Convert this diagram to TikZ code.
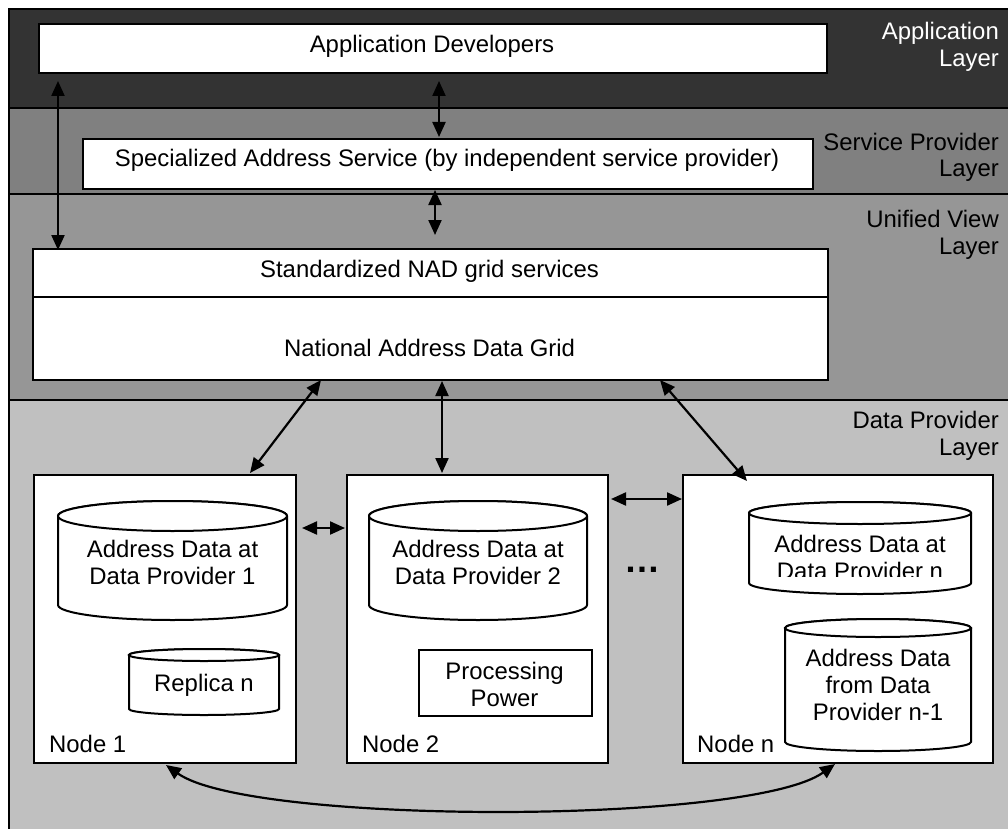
\documentclass[tikz,border=0pt]{standalone}
\usepackage{fontspec}
\setmainfont{Liberation Sans}
\usetikzlibrary{arrows.meta}
\definecolor{appc}{HTML}{333333}
\definecolor{svc}{HTML}{808080}
\definecolor{uvc}{HTML}{969696}
\definecolor{dpc}{HTML}{C0C0C0}
\newcommand\dbdraw[5]{%
  \pgfmathsetmacro\dbrx{(#2-#1)/2}%
  \filldraw[cylline] (#1,#3) -- (#1,#4) arc[start angle=180,end angle=0,x radius=\dbrx,y radius=#5]
    -- (#2,#3) arc[start angle=0,end angle=-180,x radius=\dbrx,y radius=#5] -- cycle;
  \draw[cylline] ({(#1+#2)/2},#3) ellipse[x radius=\dbrx, y radius=#5];
}
\begin{document}
\begin{tikzpicture}[x=1pt,y=-1pt,
  box/.style={draw=black, line width=2pt, fill=white, inner sep=0pt, anchor=north west},
  cylline/.style={draw=black, line width=2pt, fill=white},
  txt/.style={font=\fontsize{23.9}{27}\selectfont, inner sep=0pt, anchor=base, align=center},
  lyr/.style={txt, anchor=base east, align=right},
  conn/.style={line width=2.2pt, {Triangle[length=15pt,width=13pt]}-{Triangle[length=15pt,width=13pt]}}]
\useasboundingbox (0,0) rectangle (1008,829);
\fill[white] (0,0) rectangle (1008,829);
% layers
\fill[appc] (9,9) rectangle (1008,108);
\fill[svc] (9,108) rectangle (1008,194);
\fill[uvc] (9,194) rectangle (1008,400);
\fill[dpc] (9,400) rectangle (1008,829);
\draw[line width=2pt] (1008,9) -- (9,9) -- (9,829);
\draw[line width=2pt] (9,108) -- (1008,108);
\draw[line width=2pt] (9,194) -- (1008,194);
\draw[line width=2pt] (9,400) -- (1008,400);
% layer labels
\node[lyr, text=white] (lapp) at (999,67) {Application\\Layer};
\node[lyr] (lsvc) at (999,177) {Service Provider\\Layer};
\node[lyr] (luv) at (999,254) {Unified View\\Layer};
\node[lyr] (ldp) at (999,455) {Data Provider\\Layer};
% boxes
\node[box, minimum width=788pt, minimum height=49pt] (appdev) at (38,23) {};
\node[txt] (appdevt) at (432,53) {Application Developers};
\node[box, minimum width=730pt, minimum height=50pt] (spec) at (82,138) {};
\node[txt] (spect) at (447,167) {Specialized Address Service (by independent service provider)};
\node[box, minimum width=795pt, minimum height=131pt] (ugrid) at (32,248) {};
\draw[line width=2pt] (32,297) -- (827,297);
\node[txt] (stdt) at (429.5,277) {Standardized NAD grid services};
\node[txt] (nadt) at (429.5,356) {National Address Data Grid};
\node[box, minimum width=262pt, minimum height=288pt] (node1) at (33,474) {};
\node[box, minimum width=261pt, minimum height=288pt] (node2) at (346,474) {};
\node[box, minimum width=310pt, minimum height=288pt] (noden) at (682,474) {};
% node 1 contents
\dbdraw{58}{287}{516}{605}{15}
\node[txt] (c1t) at (172.5,584) {Address Data at\\Data Provider 1};
\dbdraw{129}{279}{655}{709}{6}
\node[txt] (rept) at (204,691) {Replica n};
\node[txt, anchor=base west] (n1t) at (49,752) {Node 1};
% node 2 contents
\dbdraw{369}{587}{516}{605}{15}
\node[txt] (c2t) at (478,584) {Address Data at\\Data Provider 2};
\node[box, minimum width=173pt, minimum height=66pt] (pp) at (418,649) {};
\node[txt] (ppt) at (504.5,706) {Processing\\Power};
\node[txt, anchor=base west] (n2t) at (362,752) {Node 2};
% dots
\node[txt, font=\bfseries\fontsize{36}{36}\selectfont] (dots) at (642,572) {…};
% node n contents
\dbdraw{749}{971}{513}{583}{11}
\begin{scope}
\clip (749,500) rectangle (971,576.5);
\node[txt] (cnt) at (860,579) {Address Data at\\Data Provider n};
\end{scope}
\dbdraw{785}{971}{628}{742}{9}
\node[txt] (cn2t) at (878,720) {Address Data\\from Data\\Provider n-1};
\node[txt, anchor=base west] (nnt) at (697,752) {Node n};
% connector end points
\coordinate (a1s) at (58,81);  \coordinate (a1e) at (58,250);
\coordinate (a2s) at (439,81); \coordinate (a2e) at (439,137);
\coordinate (a3s) at (435,190); \coordinate (a3e) at (435,235);
\coordinate (a4s) at (321,380); \coordinate (a4e) at (250,473);
\coordinate (a5s) at (442,381); \coordinate (a5e) at (442,473);
\coordinate (a6s) at (660,380); \coordinate (a6e) at (747,481);
\coordinate (a7s) at (302,528); \coordinate (a7e) at (345,528);
\coordinate (a8s) at (611,499); \coordinate (a8e) at (682,499);
\coordinate (a9s) at (166,765); \coordinate (a9e) at (835,764);
% connectors
\draw[conn] (a1s) -- (a1e);
\draw[conn] (a2s) -- (a2e);
\draw[conn] (a3s) -- (a3e);
\draw[conn] (a4s) -- (a4e);
\draw[conn] (a5s) -- (a5e);
\draw[conn] (a6s) -- (a6e);
\draw[conn] (a7s) -- (a7e);
\draw[conn] (a8s) -- (a8e);
\draw[conn] (a9s) .. controls (250,825) and (750,825) .. (a9e);
\end{tikzpicture}
\end{document}
